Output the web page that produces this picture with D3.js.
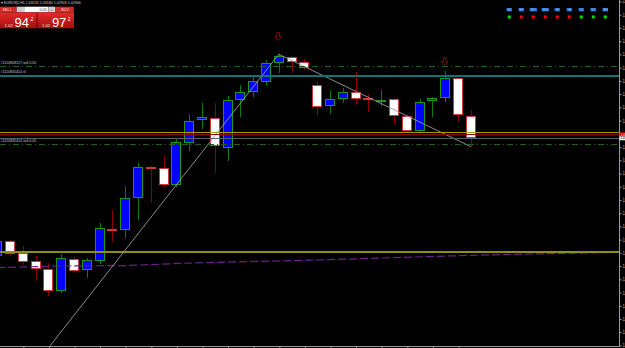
<!DOCTYPE html>
<html>
<head>
<meta charset="utf-8">
<script src="https://cdn.jsdelivr.net/npm/d3@7"></script>
<style>
    html, body { margin: 0; padding: 0; background: #000; overflow: hidden; }
    svg { display: block; font-family: "Liberation Sans", Arial, sans-serif; }
</style>
</head>
<body>
<svg id="chart"></svg>
<script>
const WIDTH = 625
const HEIGHT = 348
const AXIS_X = 619.5
const AXIS_Y = 346

// EURUSD H1 candles
const opens = [
    1.02079, 1.02190, 1.02101, 1.02036, 1.01976, 1.01806, 1.02056, 1.01968, 1.02039, 1.02283,
    1.02273, 1.02512, 1.02751, 1.02739, 1.02613, 1.02936, 1.03102, 1.03122, 1.02898, 1.03261,
    1.03314, 1.03394, 1.03533, 1.03578, 1.03540, 1.03369, 1.03212, 1.03261, 1.03316, 1.03268,
    1.03256, 1.03261, 1.03132, 1.03021, 1.03243, 1.03268, 1.03420, 1.03132,
]
const highs = [
    1.02205, 1.02198, 1.02152, 1.02074, 1.02021, 1.02089, 1.02071, 1.02059, 1.02324, 1.02424,
    1.02596, 1.02782, 1.02757, 1.02832, 1.02971, 1.03142, 1.03235, 1.03231, 1.03288, 1.03369,
    1.03432, 1.03558, 1.03601, 1.03581, 1.03563, 1.03394, 1.03326, 1.03344, 1.03469, 1.03299,
    1.03331, 1.03271, 1.03142, 1.03261, 1.03280, 1.03477, 1.03422, 1.03180,
]
const lows = [
    1.02061, 1.02076, 1.02008, 1.01890, 1.01776, 1.01800, 1.01946, 1.01908, 1.02014, 1.02184,
    1.02210, 1.02348, 1.02479, 1.02600, 1.02600, 1.02870, 1.03036, 1.02706, 1.02797, 1.03129,
    1.03280, 1.03369, 1.03462, 1.03457, 1.03482, 1.03142, 1.03147, 1.03231, 1.03218, 1.03163,
    1.03210, 1.03067, 1.03008, 1.03017, 1.03129, 1.03243, 1.03091, 1.02903,
]
const closes = [
    1.02190, 1.02091, 1.02033, 1.01976, 1.01806, 1.02059, 1.01968, 1.02044, 1.02286, 1.02268,
    1.02512, 1.02747, 1.02736, 1.02613, 1.02936, 1.03099, 1.03125, 1.02908, 1.03258, 1.03318,
    1.03399, 1.03535, 1.03588, 1.03537, 1.03492, 1.03200, 1.03263, 1.03314, 1.03265, 1.03250,
    1.03256, 1.03129, 1.03021, 1.03243, 1.03268, 1.03420, 1.03137, 1.02966,
]

const priceTicks = [
    1.0140, 1.0150, 1.0160, 1.0170, 1.0180, 1.0190, 1.0200, 1.0210, 1.0220, 1.0230,
    1.0240, 1.0250, 1.0260, 1.0270, 1.0280, 1.0290, 1.0300, 1.0310, 1.0320, 1.0330,
    1.0340, 1.0350, 1.0360, 1.0370, 1.0380, 1.0390, 1.0400,
]

// trade levels
const orderLevels = [1.03513, 1.02925]
const orderLabels = ['#1110858127 sell 0.05', '#1110835414 sell 0.05']
const stopLevel = 1.03447
const stopLabel = '#1110835414 sl'
const yellowLevels = [1.03011, 1.02116]
const askPrice = 1.02996
const bidPrice = 1.02966

// one-click panel quotes
const panelBid = 1.02942
const panelAsk = 1.02972
const panelLot = '0.05'

// slow moving average (dashed purple), bar index / price
const maIndex = [0, 5, 10, 15, 20, 25, 30, 35, 40, 49]
const maValues = [1.01989, 1.02001, 1.02004, 1.02023, 1.02035, 1.02046, 1.02061, 1.02076, 1.02088, 1.02105]

// trend lines: [from index, from price, to index, to price]
const trendLines = [
    [3, 1.01258, 22, 1.03601],
    [22, 1.03601, 37, 1.02903],
]

// fractal arrows
const fractalIndex = [22, 35]
const fractalPrice = [1.03704, 1.03515]

// timeframe trend panel
const tfLabels = ['M1', 'M5', 'M15', 'M30', 'H1', 'H4', 'D1', 'W1', 'MN']
const tfTrend = ['up', 'down', 'down', 'down', 'down', 'down', 'up', 'up', 'up']

const candles = opens.map((o, i) => ({ i, o, h: highs[i], l: lows[i], c: closes[i] }))

const xScale = d3.scaleLinear().domain([0, 37]).range([-2.8, 470.8])
const yScale = d3.scaleLinear().domain([1.0300, 1.0400]).range([133.8, 1.5])

const crisp = v => Math.round(v) + 0.5

const svg = d3.select('#chart')
    .attr('width', WIDTH)
    .attr('height', HEIGHT)
    .attr('viewBox', [0, 0, WIDTH, HEIGHT].join(' '))

svg.append('rect')
    .attr('width', WIDTH)
    .attr('height', HEIGHT)
    .attr('fill', '#000')

const defs = svg.append('defs')
defs.append('clipPath')
    .attr('id', 'plot-clip')
    .append('rect')
    .attr('width', AXIS_X)
    .attr('height', AXIS_Y)

const grad = defs.append('linearGradient')
    .attr('id', 'quote-grad')
    .attr('x1', 0).attr('y1', 0).attr('x2', 0).attr('y2', 1)
grad.append('stop').attr('offset', '0%').attr('stop-color', '#e42a2a')
grad.append('stop').attr('offset', '100%').attr('stop-color', '#a40e0e')

const plot = svg.append('g').attr('clip-path', 'url(#plot-clip)')

// Candles
const isBull = d => d.c >= d.o
const candleGroup = plot.append('g').attr('shape-rendering', 'crispEdges')

candleGroup.selectAll('line.wick')
    .data(candles)
    .join('line')
    .attr('class', 'wick')
    .attr('x1', d => crisp(xScale(d.i)))
    .attr('x2', d => crisp(xScale(d.i)))
    .attr('y1', d => Math.round(yScale(d.h)))
    .attr('y2', d => Math.round(yScale(d.l)))
    .attr('stroke', d => isBull(d) ? '#0b7a0b' : '#8b0000')
    .attr('stroke-width', 1)

candleGroup.selectAll('rect.body')
    .data(candles)
    .join('rect')
    .attr('class', 'body')
    .attr('x', d => Math.round(xScale(d.i)) - 4.5)
    .attr('width', 9)
    .attr('y', d => crisp(Math.min(yScale(d.o), yScale(d.c))))
    .attr('height', d => Math.max(1, Math.round(Math.abs(yScale(d.o) - yScale(d.c))) - 1))
    .attr('fill', d => isBull(d) ? '#0000ff' : '#ffffff')
    .attr('stroke', d => isBull(d) ? '#1a961a' : '#cc3838')
    .attr('stroke-width', 1)

// Moving average
const maLine = d3.line()
    .x(d => xScale(d[0]))
    .y(d => yScale(d[1]))

plot.append('path')
    .datum(maIndex.map((m, k) => [m, maValues[k]]))
    .attr('d', maLine)
    .attr('fill', 'none')
    .attr('stroke', '#6a2088')
    .attr('stroke-width', 1.2)
    .attr('stroke-dasharray', '8,3')

// Trend lines
plot.selectAll('line.trend')
    .data(trendLines)
    .join('line')
    .attr('class', 'trend')
    .attr('x1', d => xScale(d[0]))
    .attr('y1', d => yScale(d[1]))
    .attr('x2', d => xScale(d[2]))
    .attr('y2', d => yScale(d[3]))
    .attr('stroke', '#9a9a9a')
    .attr('stroke-width', 0.9)

// Horizontal levels
const levels = plot.append('g').attr('shape-rendering', 'crispEdges')

const hLine = (price, color, width, dash) => levels.append('line')
    .attr('x1', 0)
    .attr('x2', AXIS_X)
    .attr('y1', crisp(yScale(price)))
    .attr('y2', crisp(yScale(price)))
    .attr('stroke', color)
    .attr('stroke-width', width)
    .attr('stroke-dasharray', dash)

hLine(stopLevel, '#107474', 2, null)
hLine(yellowLevels[0], '#a0a000', 1, null)
hLine(askPrice, '#8b0000', 1.5, null)
hLine(bidPrice, '#56606c', 1, null)
hLine(yellowLevels[1], '#8e8e18', 2, null)
orderLevels.forEach(p => hLine(p, '#1f5f1f', 1, '6,3,1,3'))

const labelText = (price, text) => plot.append('text')
    .attr('x', 0.5)
    .attr('y', yScale(price) - 1.8)
    .attr('font-size', 3.6)
    .attr('fill', '#c8c8c8')
    .text(text)

orderLevels.forEach((p, k) => labelText(p, orderLabels[k]))
labelText(stopLevel, stopLabel)

// Fractal arrows (hollow, pointing down)
const arrowPath = 'M-1.3,-8 L1.3,-8 L1.3,-4 L3.2,-4 L0,0 L-3.2,-4 L-1.3,-4 Z'
plot.selectAll('path.fractal')
    .data(fractalIndex)
    .join('path')
    .attr('class', 'fractal')
    .attr('d', arrowPath)
    .attr('transform', (d, k) => `translate(${xScale(d) - 0.5},${yScale(fractalPrice[k])})`)
    .attr('fill', 'none')
    .attr('stroke', '#b00000')
    .attr('stroke-width', 0.8)

// Axes
svg.append('line')
    .attr('x1', AXIS_X).attr('x2', AXIS_X)
    .attr('y1', 0).attr('y2', AXIS_Y + 0.5)
    .attr('stroke', '#9a9a9a')
    .attr('shape-rendering', 'crispEdges')

svg.append('line')
    .attr('x1', 0).attr('x2', AXIS_X)
    .attr('y1', AXIS_Y + 0.5).attr('y2', AXIS_Y + 0.5)
    .attr('stroke', '#9a9a9a')
    .attr('shape-rendering', 'crispEdges')

// labels hidden behind the bid/ask markers are left blank, as on the terminal
const hiddenByMarker = p => [askPrice, bidPrice].some(m => Math.abs(yScale(m) - yScale(p)) < 5)

const yAxis = d3.axisRight(yScale)
    .tickValues(priceTicks)
    .tickFormat(p => hiddenByMarker(p) ? '' : d3.format('.4f')(p))
    .tickSize(2)
    .tickPadding(1)
    .tickSizeOuter(0)

const yAxisGroup = svg.append('g')
    .attr('transform', `translate(${AXIS_X},0)`)
    .call(yAxis)
yAxisGroup.select('.domain').remove()
yAxisGroup.selectAll('line').attr('stroke', '#9a9a9a')
yAxisGroup.selectAll('text')
    .attr('fill', '#b0b0b0')
    .attr('font-size', 4.5)
    .attr('font-family', '"Liberation Sans", Arial, sans-serif')

const xAxis = d3.axisBottom(xScale)
    .tickValues(candles.filter(d => d.i % 2 === 0).map(d => d.i))
    .tickFormat(() => '')
    .tickSize(3)
    .tickSizeOuter(0)

const xAxisGroup = svg.append('g')
    .attr('transform', `translate(0.5,${AXIS_Y})`)
    .call(xAxis)
xAxisGroup.select('.domain').remove()
xAxisGroup.selectAll('line').attr('stroke', '#9a9a9a')

// Bid / ask markers on the price scale
const marker = (price, fill, textFill) => {
    const g = svg.append('g')
    g.append('rect')
        .attr('x', AXIS_X)
        .attr('y', yScale(price) - 2)
        .attr('width', WIDTH - AXIS_X)
        .attr('height', 4)
        .attr('fill', fill)
    g.append('text')
        .attr('x', AXIS_X + 1)
        .attr('y', yScale(price) + 1.2)
        .attr('font-size', 3)
        .attr('fill', textFill)
        .text(d3.format('.5f')(price))
}
marker(askPrice, '#d00000', '#ffffff')
marker(bidPrice, '#f2f2f2', '#000000')

// Title
const last = candles[candles.length - 1]
const fmt5 = d3.format('.5f')
svg.append('text')
    .attr('x', 1)
    .attr('y', 4.2)
    .attr('font-size', 3.6)
    .attr('fill', '#d0d0d0')
    .text(`\u25BE EURUSD,H1  ${fmt5(last.o)} ${fmt5(last.h)} ${fmt5(last.l)} ${fmt5(last.c)}`)

// One-click trading panel
const panel = svg.append('g')

const button = (x, w, fill, label, textFill, anchor, tx) => {
    panel.append('rect')
        .attr('x', x).attr('y', 6.7)
        .attr('width', w).attr('height', 5.6)
        .attr('fill', fill)
    panel.append('text')
        .attr('x', tx)
        .attr('y', 11)
        .attr('font-size', 3.8)
        .attr('text-anchor', anchor)
        .attr('fill', textFill)
        .text(label)
}
button(0, 16.7, '#d82828', 'SELL', '#ffd6d6', 'start', 2.5)
button(16.7, 8.3, '#cfcfcf', '-', '#333', 'middle', 20.8)
button(25, 23.3, '#ffffff', panelLot, '#333', 'end', 46.8)
button(48.3, 6.7, '#cfcfcf', '+', '#333', 'middle', 51.6)
button(55, 18.7, '#d82828', 'BUY', '#ffd6d6', 'start', 61.3)

const quoteBox = (x, price) => {
    const s = price.toFixed(5)
    panel.append('rect')
        .attr('x', x).attr('y', 12.3)
        .attr('width', 36.7).attr('height', 16)
        .attr('fill', 'url(#quote-grad)')
    panel.append('text')
        .attr('x', x + 4.6).attr('y', 26.6)
        .attr('font-size', 4.2)
        .attr('fill', '#ffe0e0')
        .text(s.slice(0, 4))
    panel.append('text')
        .attr('x', x + 14.6).attr('y', 27.2)
        .attr('font-size', 13)
        .attr('fill', '#ffffff')
        .text(s.slice(4, 6))
    panel.append('text')
        .attr('x', x + 30.4).attr('y', 20.6)
        .attr('font-size', 5)
        .attr('fill', '#ffffff')
        .text(s.slice(6))
}
quoteBox(0, panelBid)
quoteBox(37.3, panelAsk)

// Timeframe trend panel
const tf = svg.append('g')
tfLabels.forEach((label, k) => {
    const cx = 509.3 + 12 * k
    const w = label.length * 2 + 1.5
    tf.append('rect')
        .attr('x', cx - w / 2).attr('y', 8)
        .attr('width', w).attr('height', 3.4)
        .attr('fill', '#1a62cc')
    tf.append('text')
        .attr('x', cx).attr('y', 10.8)
        .attr('font-size', 3)
        .attr('text-anchor', 'middle')
        .attr('fill', '#a8d0ff')
        .text(label)
    tf.append('rect')
        .attr('x', cx - 1.5).attr('y', 15.5)
        .attr('width', 3).attr('height', 3)
        .attr('fill', tfTrend[k] === 'up' ? '#00dc00' : '#ff0000')
})
</script>
</body>
</html>
